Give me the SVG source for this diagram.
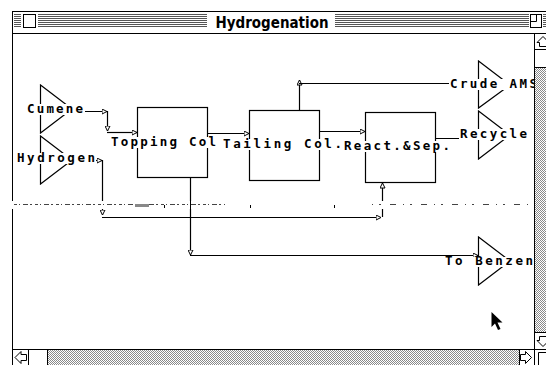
<svg xmlns="http://www.w3.org/2000/svg" width="546" height="365" viewBox="0 0 546 365">
<defs>
<pattern id="gray" width="2" height="2" patternUnits="userSpaceOnUse"><rect width="2" height="2" fill="#fff"/><rect width="1" height="1" fill="#8a8a8a"/><rect x="1" y="1" width="1" height="1" fill="#8a8a8a"/></pattern>
<marker id="arr" viewBox="0 0 6 6" refX="5.5" refY="3" markerWidth="6" markerHeight="6" markerUnits="userSpaceOnUse" orient="auto"><path d="M0.5,0.5 L5.5,3 L0.5,5.5 Z" fill="#fff" stroke="#000" stroke-width="1"/></marker>
</defs>
<style>
.ln{stroke:#000;stroke-width:1;fill:none}
.st{stroke:#555;stroke-width:1;fill:none}
.c{stroke:#000;stroke-width:1.2;fill:none;marker-end:url(#arr)}
.p{stroke:#000;stroke-width:1.2;fill:none}
.lbl{font-family:"DejaVu Sans Mono","Liberation Mono",monospace;font-size:12.5px;font-weight:bold;fill:#000}
.bg{fill:#fff}
.shape{fill:none;stroke:#000;stroke-width:1.2}
.box{fill:#fff;stroke:#000;stroke-width:1}
</style>
<rect width="546" height="365" fill="#fff"/>
<g id="window">
<line class="ln" x1="12" y1="11.5" x2="546" y2="11.5"/>
<line class="ln" x1="12.5" y1="11" x2="12.5" y2="365"/>
<line class="ln" x1="12" y1="33.5" x2="546" y2="33.5"/>
<g id="stripes">
<path class="st" d="M14,14.5H21M14,16.5H21M14,18.5H21M14,20.5H21M14,22.5H21M14,24.5H21M14,26.5H21"/>
<path class="st" d="M38,14.5H207M38,16.5H207M38,18.5H207M38,20.5H207M38,22.5H207M38,24.5H207M38,26.5H207"/>
<path class="st" d="M335,14.5H529M335,16.5H529M335,18.5H529M335,20.5H529M335,22.5H529M335,24.5H529M335,26.5H529"/>
<path class="st" d="M543,14.5H546M543,16.5H546M543,18.5H546M543,20.5H546M543,22.5H546M543,24.5H546M543,26.5H546"/>
</g>
<rect class="box" x="23.5" y="14.5" width="12" height="13"/>
<rect class="box" x="530.5" y="14.5" width="11" height="13"/>
<path class="ln" d="M530.5,21.5H536.5V14.5"/>
<text x="272" y="28" text-anchor="middle" textLength="113" lengthAdjust="spacingAndGlyphs" font-family="'DejaVu Sans', sans-serif" font-weight="bold" font-size="15">Hydrogenation</text>
<line class="ln" x1="534.5" y1="33" x2="534.5" y2="365"/>
<path class="ln" d="M535,49.5H546M535,67.5H546M535,332.5H546"/>
<path class="ln" d="M543,36.5L549,42.5H546.5V46.5H539.5V42.5H537Z"/>
<path class="ln" d="M543,346.5L549,340.5H546.5V336.5H539.5V340.5H537Z"/>
<line class="ln" x1="12" y1="349.5" x2="546" y2="349.5"/>
<rect x="48" y="350" width="471" height="15" fill="url(#gray)"/>
<path class="ln" d="M28.5,350V365M47.5,350V365M519.5,350V365"/>
<path class="ln" d="M15,357.5L21,351.5V354.5H26.5V360.5H21V363.5Z"/>
<path class="ln" d="M531.5,357.5L525.5,351.5V354.5H520.5V360.5H525.5V363.5Z"/>
<path class="ln" d="M538.5,352.5H546M538.5,352.5V365"/>
</g>
<g id="connectors">
<line class="c" x1="72" y1="111.5" x2="107" y2="111.5"/>
<line class="c" x1="107.5" y1="111" x2="107.5" y2="131"/>
<line class="c" x1="107" y1="132.5" x2="137" y2="132.5"/>
<line class="c" x1="90" y1="160.5" x2="102" y2="160.5"/>
<line class="c" x1="102.5" y1="160" x2="102.5" y2="215"/>
<line class="c" x1="102" y1="217.5" x2="381" y2="217.5"/>
<line class="c" x1="382.5" y1="217" x2="382.5" y2="183"/>
<line class="c" x1="207" y1="133.5" x2="249" y2="133.5"/>
<line class="c" x1="319" y1="131.5" x2="365" y2="131.5"/>
<line class="c" x1="299.5" y1="110" x2="299.5" y2="80"/>
<line class="p" x1="299" y1="83.5" x2="478" y2="83.5"/>
<line class="p" x1="435" y1="138.5" x2="478" y2="138.5"/>
<line class="c" x1="190.5" y1="177" x2="190.5" y2="255"/>
<line class="c" x1="190" y1="255.5" x2="478" y2="255.5"/>
</g>
<g id="glitch">
<rect x="0" y="201" width="534" height="8" fill="#fff"/>
<line x1="14" y1="204.5" x2="225" y2="204.5" stroke="#444" stroke-width="1" stroke-dasharray="3,2,1,3,5,2,2,3"/>
<line x1="372" y1="204.5" x2="534" y2="204.5" stroke="#444" stroke-width="1" stroke-dasharray="1,6,2,9,6,7"/>
<rect x="135" y="204" width="14" height="3" fill="#888"/>
<path class="ln" d="M164.5,205V208M250.5,205V208M334.5,205V208M190.5,200V210"/>
</g>
<g id="cumene">
<polygon class="shape" points="40.5,85 72,109 40.5,133"/>
<rect class="bg" x="26" y="104" width="59" height="11"/>
<text class="lbl" x="27" y="113" textLength="56" lengthAdjust="spacing">Cumene</text>
</g>
<g id="hydrogen">
<polygon class="shape" points="40.5,136 72,160 40.5,184"/>
<rect class="bg" x="16" y="153" width="80" height="11"/>
<text class="lbl" x="17" y="162" textLength="78" lengthAdjust="spacing">Hydrogen</text>
</g>
<g id="topping">
<rect class="shape" x="137.5" y="107.5" width="70" height="70"/>
<rect class="bg" x="110" y="137" width="108" height="11"/>
<text class="lbl" x="111" y="146" textLength="105" lengthAdjust="spacing">Topping Col</text>
</g>
<g id="tailing">
<rect class="shape" x="249.5" y="110.5" width="70" height="70"/>
<rect class="bg" x="222" y="139" width="121" height="11"/>
<text class="lbl" x="223" y="148" textLength="119" lengthAdjust="spacing">Tailing Col.</text>
</g>
<g id="react">
<rect class="shape" x="365.5" y="112.5" width="70" height="70"/>
<rect class="bg" x="343" y="141" width="108" height="11"/>
<text class="lbl" x="344" y="150" textLength="106" lengthAdjust="spacing">React.&amp;Sep.</text>
</g>
<g id="crude-ams">
<polygon class="shape" points="478.5,61 510,85 478.5,108"/>
<rect class="bg" x="449" y="79" width="85" height="11"/>
<text class="lbl" x="450" y="88" textLength="87" lengthAdjust="spacing">Crude AMS</text>
</g>
<g id="recycle">
<polygon class="shape" points="478.5,111 510,135 478.5,159"/>
<rect class="bg" x="459" y="129" width="69" height="11"/>
<text class="lbl" x="460" y="138" textLength="67" lengthAdjust="spacing">Recycle</text>
</g>
<g id="to-benzen">
<polygon class="shape" points="478.5,237 510,261 478.5,285"/>
<rect class="bg" x="444" y="257" width="90" height="10"/>
<text class="lbl" x="445" y="265" textLength="88" lengthAdjust="spacing">To Benzen</text>
</g>
<g id="chrome-over">
<rect x="535" y="68" width="11" height="264" fill="url(#gray)"/>
<line class="ln" x1="534.5" y1="33" x2="534.5" y2="365"/>
</g>
<g id="cursor">
<polygon points="491.5,312 491.5,327 495,323.5 498,330 500.5,329 497.5,322.5 502.5,322.5" fill="#000"/>
</g>
</svg>
